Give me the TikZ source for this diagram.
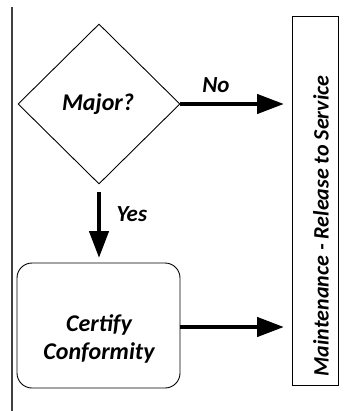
\documentclass[tikz,border=0pt]{standalone}
\usepackage{fontspec}
\setmainfont{Carlito}
\usetikzlibrary{shapes.geometric,arrows.meta}
\begin{document}
\begin{tikzpicture}[x=1pt,y=-1pt,
  lbl/.style={font=\bfseries\itshape\fontsize{24}{28}\selectfont},
  small/.style={font=\bfseries\itshape\fontsize{23}{27}\selectfont},
  flow/.style={line width=4.5pt,-{Triangle[length=27pt,width=19pt]}},
  thin/.style={line width=0.9pt}]
  \useasboundingbox (0,0) rectangle (343,411);
  % swimlane divider
  \draw[line width=1.4pt,black!75] (12,7) coordinate (lt) -- (12,411) coordinate (lb);
  % decision
  \node[thin,draw,diamond,minimum width=162pt,minimum height=160pt,inner sep=0pt] (major) at (99,104) {};
  \node[lbl] (majtxt) at (98,104) {Major?};
  % process
  \node[thin,draw,rounded corners=15pt,minimum width=163pt,minimum height=125pt] (cert) at (98.5,325.5) {};
  \node[lbl,align=center] (certtxt) at (99,339) {Certify\\Conformity};
  % target lane
  \node[thin,draw,minimum width=46pt,minimum height=369pt,inner sep=0pt] (maint) at (315,200.5) {};
  \node[rotate=90,font=\bfseries\itshape\fontsize{22}{26}\selectfont] (mtxt) at (321,226) {Maintenance - Release to Service};
  % connectors
  \coordinate (noend) at (284,104);
  \coordinate (certend) at (284,327);
  \draw[flow] (major.east) -- (noend);
  \node[small] (nolbl) at (216,85) {No};
  \draw[flow] (major.south) ++(0,8) coordinate (ys) -- (99,258) coordinate (ye);
  \node[small,anchor=west] (yeslbl) at (113,214) {Yes};
  \draw[flow] (cert.east |- certend) -- (certend);
\end{tikzpicture}
\end{document}
